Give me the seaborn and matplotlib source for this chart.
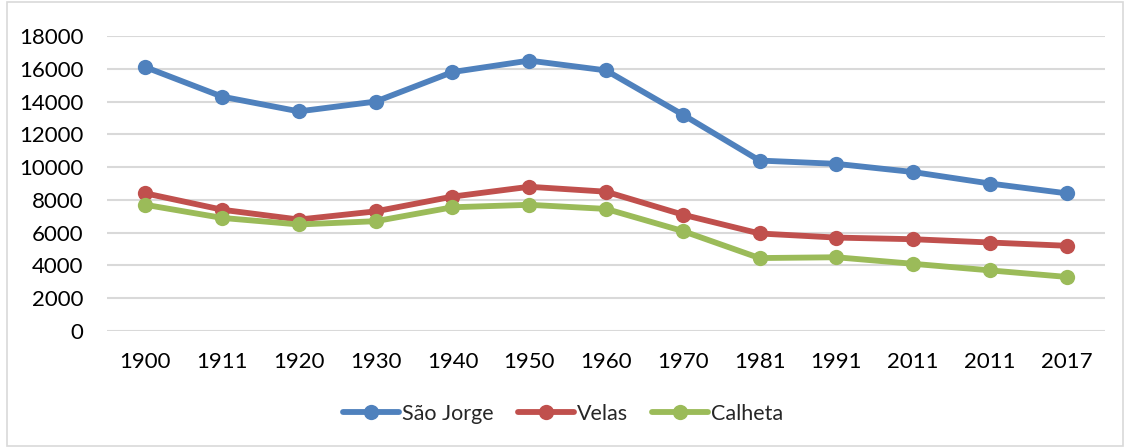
import pandas as pd
import matplotlib.pyplot as plt
import matplotlib.patches as mpatches
import seaborn as sns

# Census years (2011 appears twice in the source chart)
years = ['1900', '1911', '1920', '1930', '1940', '1950', '1960',
         '1970', '1981', '1991', '2011', '2011', '2017']

sao_jorge = [16100, 14300, 13400, 14000, 15800, 16500, 15900,
             13200, 10400, 10200, 9700, 9000, 8400]
velas = [8400, 7400, 6800, 7300, 8200, 8800, 8500,
         7100, 5950, 5700, 5600, 5400, 5200]
calheta = [7700, 6900, 6500, 6700, 7550, 7700, 7450,
           6100, 4450, 4500, 4100, 3700, 3300]

series_names = ['São Jorge', 'Velas', 'Calheta']
colors = ['#4F81BD', '#C0504D', '#9BBB59']

# Long form table, using the position as x because of the duplicate year
rows = []
for name, vals in zip(series_names, [sao_jorge, velas, calheta]):
    for i, v in enumerate(vals):
        rows.append({'pos': i, 'pop': v, 'serie': name})
df = pd.DataFrame(rows)

sns.set_style('white')
plt.rcParams['font.family'] = ['Lato', 'DejaVu Sans']

fig = plt.figure(figsize=(11.26, 4.48), dpi=100)
ax = fig.add_axes([107 / 1126, 1 - 331 / 448, 998 / 1126, 295 / 448])

sns.lineplot(data=df, x='pos', y='pop', hue='serie', palette=colors,
             marker='o', markersize=11, markeredgewidth=0, linewidth=4.2,
             ax=ax, legend=False, zorder=3)

ax.set_xlim(-0.5, len(years) - 0.5)
ax.set_ylim(0, 18000)
ax.set_yticks(range(0, 18001, 2000))
ax.set_xticks(range(len(years)))
ax.set_xticklabels(years)
ax.tick_params(axis='both', length=0, labelsize=16, colors='#000000')
ax.tick_params(axis='y', pad=17)
ax.tick_params(axis='x', pad=15)
ax.grid(axis='y', color='#d9d9d9', linewidth=1.5)
ax.set_axisbelow(True)
ax.set_xlabel('')
ax.set_ylabel('')
for s in ax.spines.values():
    s.set_visible(False)

# Legend at the bottom
handles = [plt.Line2D([], [], color=c, linewidth=4.2, marker='o',
                      markersize=11, markeredgewidth=0) for c in colors]
fig.legend(handles, series_names, loc='center', bbox_to_anchor=(0.5, 1 - 414 / 448),
           ncol=3, frameon=False, fontsize=15.5, handlelength=2.6,
           handletextpad=0.15, columnspacing=1.1)

# Chart border
fig.patches.append(mpatches.Rectangle((7 / 1126, 2 / 448), 1116 / 1126, 444 / 448,
                                      transform=fig.transFigure, fill=False,
                                      edgecolor='#d9d9d9', linewidth=1.2))

fig.savefig('out.png', dpi=100)
